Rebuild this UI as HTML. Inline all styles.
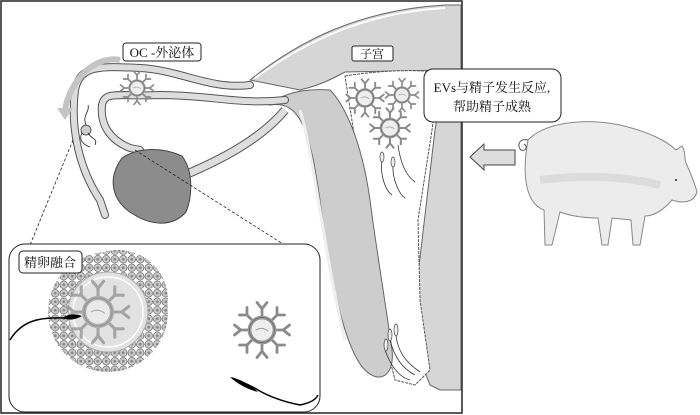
<!DOCTYPE html>
<html><head><meta charset="utf-8"><style>
html,body{margin:0;padding:0;background:#fff;width:700px;height:415px;overflow:hidden}
svg{display:block}
text{font-family:"Liberation Serif","Noto Serif CJK SC",serif;fill:#111}
</style></head><body>
<svg width="700" height="415" viewBox="0 0 700 415" xmlns="http://www.w3.org/2000/svg">
<defs>
<pattern id="cells" x="0" y="0" width="8.5" height="8.5" patternUnits="userSpaceOnUse">
<rect width="8.5" height="8.5" fill="#fff"/>
<circle cx="4.25" cy="4.25" r="3.8" fill="#c8c8c8" stroke="#666" stroke-width="0.7"/>
<circle cx="4.25" cy="4.25" r="1.4" fill="#888"/>
</pattern>
<g id="ves">
<g stroke="#8a8a8a" stroke-width="2.2" fill="none" stroke-linecap="round">
<path d="M0,-10 L0,-17 M0,-17 L-4,-22 M0,-17 L4,-22"/>
<path d="M10,0 L17,0 M17,0 L22,-4 M17,0 L22,4"/>
<path d="M0,10 L0,17 M0,17 L-4,22 M0,17 L4,22"/>
<path d="M-10,0 L-17,0 M-17,0 L-22,-4 M-17,0 L-22,4"/>
<path d="M7,-7 L12,-12 M12,-12 L12,-18 M12,-12 L18,-12"/>
<path d="M-7,7 L-12,12 M-12,12 L-12,18 M-12,12 L-18,12"/>
<path d="M7,7 L12,12 M12,12 L18,12 M12,12 L12,18"/>
<path d="M-7,-7 L-12,-12 M-12,-12 L-18,-12 M-12,-12 L-12,-18"/>
</g>
<circle r="10" fill="#eee" stroke="#999" stroke-width="3"/>
<circle r="10" fill="none" stroke="#666" stroke-width="0.6"/>
<path d="M-5,0 Q0,-3 5,1" stroke="#999" fill="none" stroke-width="0.8"/>
</g>
</defs>

<rect x="1" y="1" width="461" height="412" fill="#fff" stroke="#222" stroke-width="1.5"/>

<!-- uterus body -->
<path d="M250,80 C300,40 360,10 445,5 L461,5 L461,390 L440,390 L430,385 L420,360 L415,300 L435,130 L445,70 L345,72 C330,80 320,85 300,90 Z" fill="#d6d6d6" stroke="#666" stroke-width="1"/>
<path d="M255,78 C310,38 370,12 445,8" fill="none" stroke="#fff" stroke-width="2"/>
<path d="M345,76 Q395,68 440,72 L432,130 L418,220 L420,300 L430,370 L415,385 L395,380 L385,340 L380,300 L370,220 L355,140 Z" fill="#fff" stroke="#555" stroke-width="1" stroke-dasharray="3,1"/>
<path d="M270,105 C300,100 310,130 320,200 C330,280 345,350 365,370 C380,385 395,375 392,350 C385,300 375,240 370,200 C360,130 340,100 330,90 C300,88 280,95 270,105 Z" fill="#cdcdcd" stroke="#666" stroke-width="1"/>
<path d="M300,110 C315,160 325,260 345,340" fill="none" stroke="#eee" stroke-width="3"/>

<!-- fallopian tubes -->
<path d="M250,85 C210,90 180,70 140,68 C100,66 80,65 75,90 C70,130 80,170 100,200 L105,215" fill="none" stroke="#555" stroke-width="8" stroke-linecap="round"/>
<path d="M250,85 C210,90 180,70 140,68 C100,66 80,65 75,90 C70,130 80,170 100,200 L105,215" fill="none" stroke="#ddd" stroke-width="6" stroke-linecap="round"/>
<path d="M285,100 C240,105 210,95 160,95 C120,97 105,90 102,105 C100,125 110,140 130,148 L140,150" fill="none" stroke="#555" stroke-width="8" stroke-linecap="round"/>
<path d="M285,100 C240,105 210,95 160,95 C120,97 105,90 102,105 C100,125 110,140 130,148 L140,150" fill="none" stroke="#ddd" stroke-width="6" stroke-linecap="round"/>
<path d="M185,175 C220,160 260,140 285,110" fill="none" stroke="#555" stroke-width="9"/>
<path d="M185,175 C220,160 260,140 285,110" fill="none" stroke="#ddd" stroke-width="7"/>

<!-- ovary -->
<path d="M122,158 C140,146 165,148 182,156 C194,172 192,198 186,212 C172,228 150,225 133,214 C113,202 106,180 122,158 Z" fill="#8c8c8c" stroke="#444" stroke-width="1"/>

<!-- curved arrow -->
<path d="M120,60 C95,55 70,80 65,110" fill="none" stroke="#c4c4c4" stroke-width="6"/>
<path d="M57,108 L65,120 L73,108 Z" fill="#c4c4c4"/>

<circle cx="86" cy="130" r="5" fill="#ccc" stroke="#333" stroke-width="0.8"/>
<path d="M86,125 C82,115 90,112 88,105 M88,133 C92,140 98,138 95,145 M82,133 C78,140 84,145 90,147" fill="none" stroke="#222" stroke-width="0.8"/>

<path d="M73,140 L30,245 M135,150 L283,244" stroke="#222" stroke-width="0.8" stroke-dasharray="3,2" fill="none"/>

<use href="#ves" transform="translate(137,88) scale(0.75)"/>
<use href="#ves" transform="translate(365,98) scale(0.85)"/>
<use href="#ves" transform="translate(402,95) scale(0.75)"/>
<use href="#ves" transform="translate(390,128) scale(0.9)"/>
<g fill="none" stroke="#333" stroke-width="0.8">
<path d="M382,160 C380,175 385,190 392,195"/><path d="M393,165 C392,180 400,195 405,198"/>
<path d="M398,145 C400,160 405,175 415,182"/>
<path d="M390,340 C395,360 405,370 415,375"/><path d="M396,335 C398,355 410,365 420,372"/>
<path d="M385,350 C392,370 402,378 410,380"/>
</g>
<g fill="#eee" stroke="#444" stroke-width="0.7">
<ellipse cx="382" cy="157" rx="2" ry="5"/><ellipse cx="393" cy="162" rx="2" ry="5"/>
<ellipse cx="390" cy="335" rx="2" ry="6"/><ellipse cx="396" cy="330" rx="2" ry="6"/><ellipse cx="386" cy="345" rx="2" ry="6"/>
</g>

<rect x="123" y="43" width="78" height="18" rx="3" fill="#fff" stroke="#222"/>
<text x="162" y="57" font-size="13" text-anchor="middle">OC -外泌体</text>
<rect x="352" y="46" width="41" height="15" rx="2" fill="#fff" stroke="#222"/>
<text x="372" y="58" font-size="12" text-anchor="middle">子宫</text>
<rect x="424" y="69" width="137" height="53" rx="9" fill="#fff" stroke="#222"/>
<text x="492" y="92" font-size="13" text-anchor="middle">EVs与精子发生反应,</text>
<text x="492" y="111" font-size="13" text-anchor="middle">帮助精子成熟</text>

<!-- inset -->
<rect x="9" y="244" width="311" height="168" rx="16" fill="#fff" stroke="#222" stroke-width="1"/>
<circle cx="108" cy="312" r="60" fill="url(#cells)"/>
<circle cx="118" cy="300" r="50" fill="url(#cells)"/>
<circle cx="108" cy="312" r="40" fill="#e2e2e2" stroke="#aaa" stroke-width="1"/>
<circle cx="108" cy="312" r="35" fill="none" stroke="#fff" stroke-width="1.5"/>
<use href="#ves" transform="translate(98,312) scale(1.4)" opacity="0.7"/>
<path d="M10,340 C25,315 50,318 70,318" fill="none" stroke="#000" stroke-width="1.5"/>
<path d="M62,318 Q72,312 82,316 Q72,322 62,318 Z" fill="#000"/>
<rect x="19" y="251" width="63" height="22" rx="4" fill="#fff" stroke="#222"/>
<text x="50" y="267" font-size="13" text-anchor="middle">精卵融合</text>
<use href="#ves" transform="translate(262,330) scale(1.25)"/>
<path d="M232,378 Q248,384 258,390 Q275,400 300,405 Q315,402 318,395" fill="none" stroke="#000" stroke-width="1.5"/>
<path d="M230,377 Q245,380 258,392 Q242,388 230,377 Z" fill="#000"/>

<path d="M470,157 L484,144 L484,150 L515,150 L515,165 L484,165 L484,170 Z" fill="#ddd" stroke="#444" stroke-width="1"/>

<!-- pig -->
<path d="M528,140 C545,122 585,118 620,125 C650,132 668,142 676,150 L682,146 C686,152 684,158 686,163 C690,172 695,184 697,192 C694,202 684,204 672,200 C662,212 652,216 645,216 L640,245 L633,245 L631,220 L612,218 L608,245 L602,245 L598,218 C578,218 565,214 560,212 L552,245 L545,245 L544,210 C530,205 520,185 528,140 Z" fill="#ececec" stroke="#888" stroke-width="1"/>
<path d="M528,140 C520,138 516,145 521,150 C526,152 528,146 524,144" fill="none" stroke="#555" stroke-width="1"/>
<path d="M540,180 C580,175 620,175 660,185" fill="none" stroke="#dcdcdc" stroke-width="8"/>
<circle cx="676" cy="180" r="1" fill="#222"/>
</svg>
</body></html>
